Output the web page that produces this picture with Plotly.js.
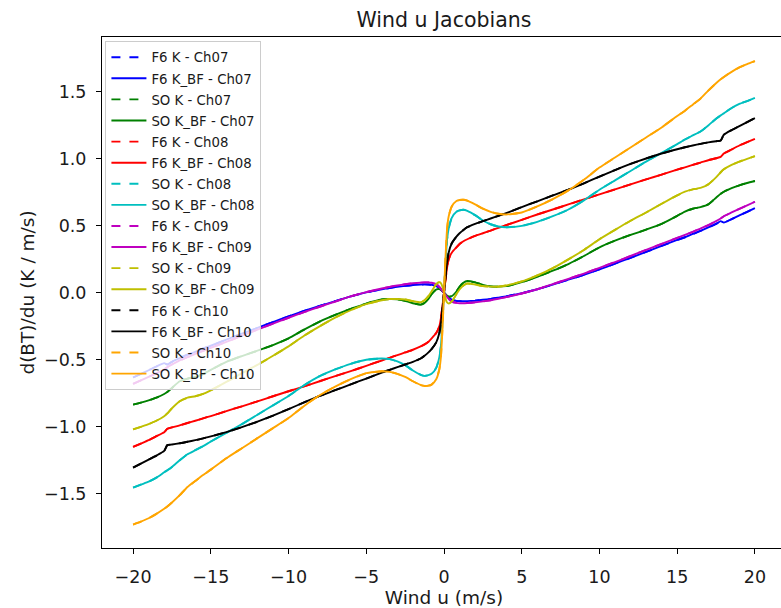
<!DOCTYPE html>
<html>
<head>
<meta charset="utf-8">
<script src="https://cdn.plot.ly/plotly-3.0.1.min.js"></script>
<style>
html, body { margin: 0; padding: 0; overflow: hidden; background: #fff; }
#chart { width: 790px; height: 608px; }
</style>
</head>
<body>
<div id="chart"></div>
<script>
// Wind u (m/s)
const windU = [-20, -19.5, -19, -18.5, -18, -17.8, -17.5, -17, -16.5, -16, -15.5, -15, -14, -13, -12, -11, -10, -9, -8, -7, -6, -5, -4, -3.5, -3, -2.5, -2, -1.5, -1.25, -1, -0.8, -0.5, -0.3, -0.2, -0.1,
  0, 0.1, 0.2, 0.3, 0.5, 0.8, 1, 1.25, 1.5, 2, 2.5, 3, 3.5, 4, 5, 6, 7, 8, 9, 10, 11, 12, 13, 14, 15, 15.5, 16, 16.5, 17, 17.5, 17.8, 18, 18.5, 19, 19.5, 20];

// d(BT)/du per channel (K and K_BF overlap)
const f6Ch07 = [-0.632, -0.605, -0.578, -0.55, -0.525, -0.535, -0.515, -0.488, -0.462, -0.44, -0.415, -0.395, -0.35, -0.305, -0.262, -0.218, -0.175, -0.135, -0.098, -0.062, -0.027, 0.003, 0.026, 0.036, 0.045, 0.052, 0.058, 0.062, 0.063, 0.062, 0.06, 0.05, 0.035, 0.025, 0.012,
  0, -0.012, -0.025, -0.035, -0.05, -0.06, -0.062, -0.063, -0.062, -0.058, -0.052, -0.045, -0.036, -0.026, -0.003, 0.027, 0.062, 0.098, 0.135, 0.175, 0.218, 0.262, 0.305, 0.35, 0.395, 0.415, 0.44, 0.462, 0.488, 0.515, 0.535, 0.525, 0.55, 0.578, 0.605, 0.632];
const soCh07 = [-0.835, -0.82, -0.803, -0.782, -0.755, -0.74, -0.71, -0.66, -0.64, -0.628, -0.607, -0.575, -0.515, -0.472, -0.432, -0.39, -0.34, -0.275, -0.215, -0.165, -0.12, -0.08, -0.05, -0.046, -0.048, -0.06, -0.078, -0.088, -0.075, -0.045, -0.01, 0.025, 0.028, 0.022, 0.012,
  0, -0.012, -0.022, -0.028, -0.025, 0.01, 0.045, 0.075, 0.088, 0.078, 0.06, 0.048, 0.046, 0.05, 0.08, 0.12, 0.165, 0.215, 0.275, 0.34, 0.39, 0.432, 0.472, 0.515, 0.575, 0.607, 0.628, 0.64, 0.66, 0.71, 0.74, 0.755, 0.782, 0.803, 0.82, 0.835];
const f6Ch08 = [-1.15, -1.125, -1.1, -1.07, -1.04, -1.015, -1.005, -0.99, -0.972, -0.955, -0.937, -0.92, -0.883, -0.847, -0.81, -0.772, -0.735, -0.698, -0.66, -0.622, -0.585, -0.545, -0.505, -0.485, -0.465, -0.445, -0.425, -0.4, -0.385, -0.365, -0.34, -0.3, -0.25, -0.19, -0.1,
  0, 0.1, 0.19, 0.25, 0.3, 0.34, 0.365, 0.385, 0.4, 0.425, 0.445, 0.465, 0.485, 0.505, 0.545, 0.585, 0.622, 0.66, 0.698, 0.735, 0.772, 0.81, 0.847, 0.883, 0.92, 0.937, 0.955, 0.972, 0.99, 1.005, 1.015, 1.04, 1.07, 1.1, 1.125, 1.15];
const soCh08 = [-1.455, -1.432, -1.41, -1.38, -1.34, -1.325, -1.3, -1.25, -1.205, -1.175, -1.145, -1.11, -1.045, -0.98, -0.91, -0.84, -0.77, -0.69, -0.622, -0.572, -0.53, -0.5, -0.49, -0.495, -0.512, -0.54, -0.58, -0.612, -0.62, -0.615, -0.605, -0.56, -0.48, -0.4, -0.22,
  0, 0.22, 0.4, 0.48, 0.56, 0.605, 0.615, 0.62, 0.612, 0.58, 0.54, 0.512, 0.495, 0.49, 0.5, 0.53, 0.572, 0.622, 0.69, 0.77, 0.84, 0.91, 0.98, 1.045, 1.11, 1.145, 1.175, 1.205, 1.25, 1.3, 1.325, 1.34, 1.38, 1.41, 1.432, 1.455];
const f6Ch09 = [-0.68, -0.653, -0.627, -0.6, -0.572, -0.555, -0.535, -0.505, -0.48, -0.456, -0.433, -0.41, -0.366, -0.32, -0.275, -0.23, -0.186, -0.144, -0.104, -0.065, -0.027, 0.005, 0.032, 0.044, 0.055, 0.064, 0.071, 0.076, 0.078, 0.078, 0.075, 0.065, 0.045, 0.03, 0.015,
  0, -0.015, -0.03, -0.045, -0.065, -0.075, -0.078, -0.078, -0.076, -0.071, -0.064, -0.055, -0.044, -0.032, -0.005, 0.027, 0.065, 0.104, 0.144, 0.186, 0.23, 0.275, 0.32, 0.366, 0.41, 0.433, 0.456, 0.48, 0.505, 0.535, 0.555, 0.572, 0.6, 0.627, 0.653, 0.68];
const soCh09 = [-1.02, -1.0, -0.98, -0.955, -0.922, -0.9, -0.862, -0.81, -0.783, -0.772, -0.755, -0.728, -0.665, -0.6, -0.538, -0.47, -0.4, -0.32, -0.25, -0.185, -0.13, -0.085, -0.055, -0.046, -0.046, -0.05, -0.062, -0.07, -0.055, -0.025, 0.01, 0.065, 0.08, 0.072, 0.045,
  0, -0.045, -0.072, -0.08, -0.065, -0.01, 0.025, 0.055, 0.07, 0.062, 0.05, 0.046, 0.046, 0.055, 0.085, 0.13, 0.185, 0.25, 0.32, 0.4, 0.47, 0.538, 0.6, 0.665, 0.728, 0.755, 0.772, 0.783, 0.81, 0.862, 0.9, 0.922, 0.955, 0.98, 1.0, 1.02];
const f6Ch10 = [-1.305, -1.275, -1.245, -1.215, -1.18, -1.137, -1.132, -1.123, -1.112, -1.1, -1.087, -1.072, -1.04, -1.003, -0.962, -0.917, -0.868, -0.818, -0.77, -0.727, -0.683, -0.64, -0.595, -0.575, -0.555, -0.535, -0.515, -0.49, -0.47, -0.445, -0.42, -0.37, -0.3, -0.23, -0.12,
  0, 0.12, 0.23, 0.3, 0.37, 0.42, 0.445, 0.47, 0.49, 0.515, 0.535, 0.555, 0.575, 0.595, 0.64, 0.683, 0.727, 0.77, 0.818, 0.868, 0.917, 0.962, 1.003, 1.04, 1.072, 1.087, 1.1, 1.112, 1.123, 1.132, 1.137, 1.18, 1.215, 1.245, 1.275, 1.305];
const soCh10 = [-1.73, -1.708, -1.683, -1.65, -1.612, -1.595, -1.565, -1.51, -1.45, -1.405, -1.36, -1.32, -1.235, -1.16, -1.085, -1.01, -0.935, -0.845, -0.765, -0.7, -0.645, -0.6, -0.585, -0.59, -0.605, -0.628, -0.66, -0.688, -0.695, -0.693, -0.685, -0.645, -0.57, -0.48, -0.27,
  0, 0.27, 0.48, 0.57, 0.645, 0.685, 0.693, 0.695, 0.688, 0.66, 0.628, 0.605, 0.59, 0.585, 0.6, 0.645, 0.7, 0.765, 0.845, 0.935, 1.01, 1.085, 1.16, 1.235, 1.32, 1.36, 1.405, 1.45, 1.51, 1.565, 1.595, 1.612, 1.65, 1.683, 1.708, 1.73];

const seriesNames = ['F6 K - Ch07', 'F6 K_BF - Ch07', 'SO K - Ch07', 'SO K_BF - Ch07',
  'F6 K - Ch08', 'F6 K_BF - Ch08', 'SO K - Ch08', 'SO K_BF - Ch08',
  'F6 K - Ch09', 'F6 K_BF - Ch09', 'SO K - Ch09', 'SO K_BF - Ch09',
  'F6 K - Ch10', 'F6 K_BF - Ch10', 'SO K - Ch10', 'SO K_BF - Ch10'];
const seriesData = [f6Ch07, f6Ch07, soCh07, soCh07, f6Ch08, f6Ch08, soCh08, soCh08,
  f6Ch09, f6Ch09, soCh09, soCh09, f6Ch10, f6Ch10, soCh10, soCh10];
const pairColors = ['#0000ff', '#008000', '#ff0000', '#00bfbf', '#bf00bf', '#bfbf00', '#000000', '#ffa500'];

const FONT = 'DejaVu Sans, sans-serif';
const traces = seriesNames.map((name, i) => ({
  type: 'scatter', mode: 'lines', name: name, legendgroup: 'g' + i,
  x: windU, y: seriesData[i],
  line: { color: pairColors[Math.floor(i / 2)], width: 1.9, dash: i % 2 === 0 ? 'dash' : 'solid', shape: 'spline', smoothing: 0.5 }
}));

const axisCommon = {
  showline: true, linecolor: '#000', linewidth: 1, mirror: true,
  showgrid: false, zeroline: false,
  ticks: 'outside', ticklen: 5, tickwidth: 1, tickcolor: '#000',
  tickfont: { family: FONT, size: 17.5, color: '#1a1a1a' }
};

const layout = {
  width: 790, height: 608,
  margin: { l: 102, r: 4, t: 37, b: 60 },
  paper_bgcolor: '#fff', plot_bgcolor: '#fff',
  font: { family: FONT, color: '#1a1a1a' },
  title: { text: 'Wind u Jacobians', font: { family: FONT, size: 20.5, color: '#1a1a1a' }, x: 0.5, xref: 'paper', y: 1 - 20 / 608, yref: 'container', yanchor: 'middle' },
  xaxis: Object.assign({}, axisCommon, {
    range: [-22, 22], tickvals: [-20, -15, -10, -5, 0, 5, 10, 15, 20],
    ticklabelstandoff: 8,
    title: { text: 'Wind u (m/s)', font: { family: FONT, size: 18.5, color: '#1a1a1a' }, standoff: 0 }
  }),
  yaxis: Object.assign({}, axisCommon, {
    range: [-1.905, 1.91], tickvals: [-1.5, -1.0, -0.5, 0, 0.5, 1.0, 1.5], tickformat: '.1f',
    ticklabelstandoff: 6,
    title: { text: 'd(BT)/du (K / m/s)', font: { family: FONT, size: 18.5, color: '#1a1a1a' }, standoff: 4 }
  }),
  showlegend: true,
  legend: {
    x: 0.005, y: 0.992, xanchor: 'left', yanchor: 'top',
    traceorder: 'grouped', itemwidth: 35,
    bgcolor: 'rgba(255,255,255,0.8)', bordercolor: '#cccccc', borderwidth: 1,
    font: { family: FONT, size: 13.3, color: '#1a1a1a' },
    tracegroupgap: 0.8
  }
};

Plotly.newPlot('chart', traces, layout, { displayModeBar: false, staticPlot: true });
</script>
</body>
</html>
